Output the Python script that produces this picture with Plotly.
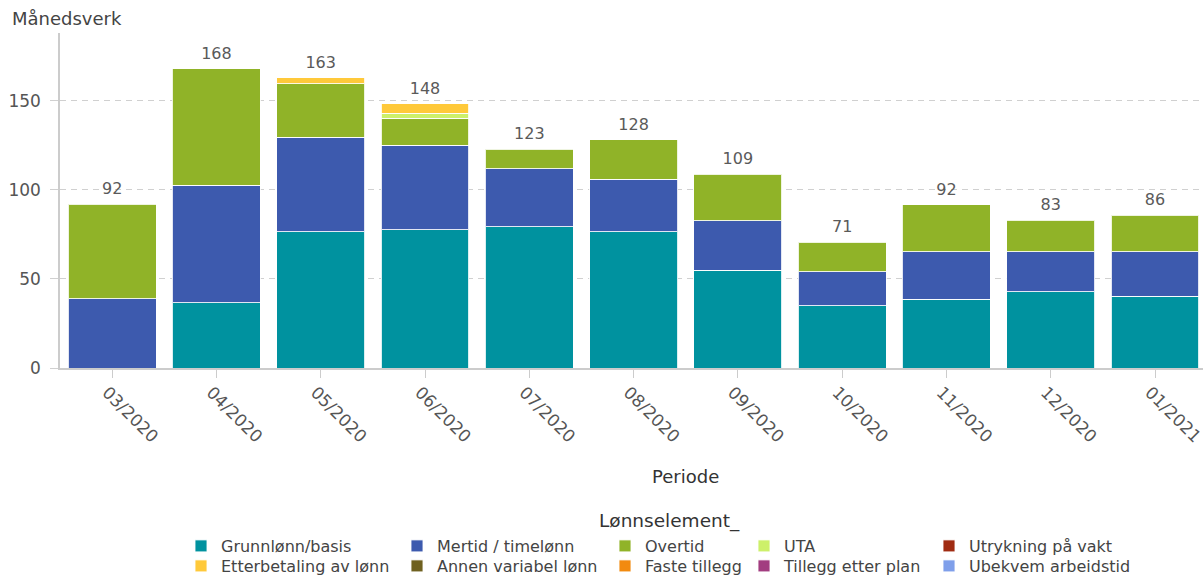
import plotly.graph_objects as go

# Perioder (x-akse)
perioder = ["03/2020", "04/2020", "05/2020", "06/2020", "07/2020", "08/2020",
            "09/2020", "10/2020", "11/2020", "12/2020", "01/2021"]

# Månedsverk per lønnselement og periode
grunnlonn = [0, 36.5, 76.4, 77.5, 79.2, 76.6, 54.9, 35.0, 38.6, 42.9, 40.4]
mertid = [39.0, 66.0, 53.0, 47.4, 32.6, 29.4, 27.7, 19.1, 26.7, 22.4, 24.9]
overtid = [53.0, 65.5, 30.0, 15.4, 11.0, 22.1, 26.2, 16.5, 26.3, 17.5, 20.3]
uta = [0, 0, 0, 2.6, 0, 0, 0, 0, 0, 0, 0]
utrykning = [0, 0, 0, 0, 0, 0, 0, 0, 0, 0, 0]
etterbetaling = [0, 0, 3.4, 5.3, 0, 0, 0, 0, 0, 0, 0]
annen_variabel = [0, 0, 0, 0, 0, 0, 0, 0, 0, 0, 0]
faste_tillegg = [0, 0, 0, 0, 0, 0, 0, 0, 0, 0, 0]
tillegg_plan = [0, 0, 0, 0, 0, 0, 0, 0, 0, 0, 0]
ubekvem = [0, 0, 0, 0, 0, 0, 0, 0, 0, 0, 0]

# (navn, verdier, farge) i stablingsrekkefølge
serier = [
    ("Grunnlønn/basis", grunnlonn, "#00929F"),
    ("Mertid / timelønn", mertid, "#3D5AAE"),
    ("Overtid", overtid, "#90B328"),
    ("UTA", uta, "#CDF06A"),
    ("Utrykning på vakt", utrykning, "#A02B12"),
    ("Etterbetaling av lønn", etterbetaling, "#FFC93A"),
    ("Annen variabel lønn", annen_variabel, "#6F6120"),
    ("Faste tillegg", faste_tillegg, "#F28A0F"),
    ("Tillegg etter plan", tillegg_plan, "#A23D80"),
    ("Ubekvem arbeidstid", ubekvem, "#7F9FEA"),
]

FONT = "DejaVu Sans"
W, H = 1203, 580
PLOT_TOP, PLOT_BOTTOM, PLOT_LEFT = 33, 368, 60

# Legendeoppsett: fem kolonner (venstre kant på symbolet) og to rader (midtlinje)
kolonner_x = [197, 413, 621, 760, 945]
rader_y = [545, 565]


def py(pixel_y):
    """Paper y-koordinat for en pikselrad i figuren."""
    return (PLOT_BOTTOM - pixel_y) / (PLOT_BOTTOM - PLOT_TOP)


def px(pixel_x):
    """Paper x-koordinat for en pikselkolonne i figuren."""
    return (pixel_x - PLOT_LEFT) / (W - PLOT_LEFT)


fig = go.Figure()
legender = {}
for i, (navn, verdier, farge) in enumerate(serier):
    key = "legend" if i == 0 else f"legend{i + 1}"
    rad, kol = divmod(i, len(kolonner_x))
    legender[key] = dict(
        orientation="v",
        xref="paper", yref="paper",
        xanchor="left", yanchor="top",
        x=px(kolonner_x[kol] - 16),
        y=py(rader_y[rad] - 16),
        font=dict(family=FONT, size=16, color="#444444"),
        bgcolor="rgba(0,0,0,0)",
        itemclick=False, itemdoubleclick=False,
    )
    fig.add_trace(go.Bar(
        name=navn,
        x=perioder,
        y=[v if v else None for v in verdier],
        marker=dict(color=farge, line=dict(color="rgba(255,255,255,0.85)", width=1)),
        legend=key,
        hovertemplate="%{x}<br>" + navn + ": %{y:.1f}<extra></extra>",
    ))

# Summer over alle elementer, vist over hver stolpe
totaler = [sum(s[1][i] for s in serier) for i in range(len(perioder))]
fig.add_trace(go.Scatter(
    x=perioder,
    y=totaler,
    mode="markers+text",
    marker=dict(size=8, color="rgba(0,0,0,0)"),
    text=[str(round(t)) for t in totaler],
    textposition="top center",
    textfont=dict(family=FONT, size=16, color="#5a5a5a"),
    showlegend=False,
    hoverinfo="skip",
    cliponaxis=False,
))

fig.update_layout(
    width=W, height=H,
    barmode="stack",
    bargap=0.157,
    plot_bgcolor="white",
    paper_bgcolor="white",
    margin=dict(l=PLOT_LEFT, r=0, t=PLOT_TOP, b=H - PLOT_BOTTOM, autoexpand=False),
    font=dict(family=FONT, color="#555555"),
    showlegend=True,
    **legender,
    xaxis=dict(
        type="category",
        range=[-0.5, 10.46],
        tickangle=45,
        tickfont=dict(family=FONT, size=17, color="#555555"),
        ticks="outside", ticklen=8, tickcolor="#cccccc", tickwidth=1,
        ticklabelshift=-5, ticklabelstandoff=-2,
        showline=True, linecolor="#cccccc", linewidth=1.5,
        showgrid=False,
        fixedrange=True,
    ),
    yaxis=dict(
        range=[0, 188],
        tickvals=[0, 50, 100, 150],
        tickfont=dict(family=FONT, size=17, color="#555555"),
        ticks="outside", ticklen=8, tickcolor="#d0d0d0", tickwidth=1,
        ticklabelstandoff=6,
        showline=True, linecolor="#cccccc", linewidth=1.5,
        showgrid=True, gridcolor="#d0d0d0", gridwidth=1, griddash="6px,5px",
        zeroline=False,
        fixedrange=True,
    ),
    annotations=[
        dict(text="Månedsverk", xref="paper", yref="paper",
             x=px(10), y=py(18), xanchor="left", yanchor="middle",
             showarrow=False, font=dict(family=FONT, size=18, color="#444444")),
        dict(text="Periode", xref="paper", yref="paper",
             x=px(685), y=py(476), xanchor="center", yanchor="middle",
             showarrow=False, font=dict(family=FONT, size=18, color="#333333")),
        dict(text="Lønnselement_", xref="paper", yref="paper",
             x=px(669), y=py(521), xanchor="center", yanchor="middle",
             showarrow=False, font=dict(family=FONT, size=18.5, color="#333333")),
    ],
)

fig.write_html("out.html")
